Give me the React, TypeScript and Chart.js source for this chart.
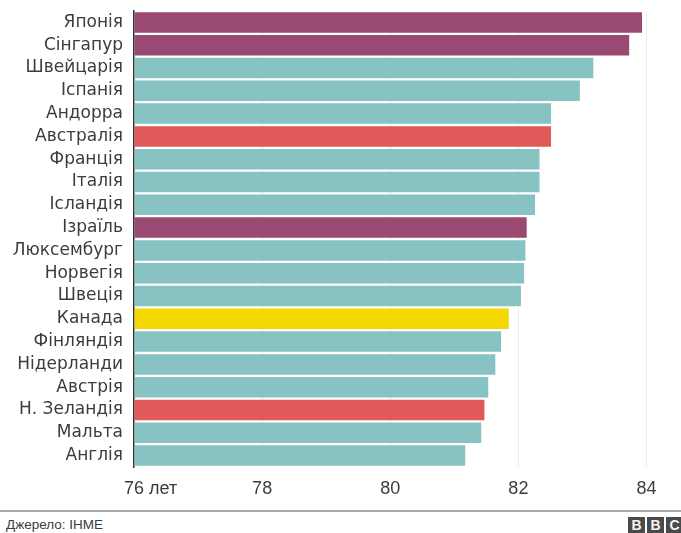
import React, { useEffect, useRef } from "react";
import { Chart, registerables } from "chart.js";

Chart.register(...registerables);

const countries: string[] = [
  "Японія", "Сінгапур", "Швейцарія", "Іспанія", "Андорра",
  "Австралія", "Франція", "Італія", "Ісландія", "Ізраїль",
  "Люксембург", "Норвегія", "Швеція", "Канада", "Фінляндія",
  "Нідерланди", "Австрія", "Н. Зеландія", "Мальта", "Англія",
];

const lifeExpectancy: number[] = [
  83.93, 83.73, 83.17, 82.96, 82.51,
  82.51, 82.33, 82.33, 82.26, 82.13,
  82.11, 82.09, 82.04, 81.85, 81.73,
  81.64, 81.53, 81.47, 81.42, 81.17,
];

// highlight group per country: 0 = other, 1 = Asia/Middle East, 2 = Oceania, 3 = Canada
const groups: number[] = [
  1, 1, 0, 0, 0,
  2, 0, 0, 0, 1,
  0, 0, 0, 3, 0,
  0, 0, 2, 0, 0,
];

const groupColors: string[] = ["#86c3c2", "#9a4a72", "#e05a5a", "#f5d800"];

const axisMin = 76;
const axisMax = 84;
const axisStep = 2;
const firstTickUnit = " лет";

const FONT = "'Liberation Sans', Arial, Helvetica, sans-serif";
const LABEL_FONT = "'DejaVu Sans', 'Liberation Sans', sans-serif";
const TEXT = "#3c3c3c";

// appends the unit after the first x tick label
const unitPlugin = {
  id: "firstTickUnit",
  afterDraw(chart: any) {
    const scale = chart.scales.x;
    if (!scale) return;
    const items = scale.getLabelItems(chart.chartArea);
    const first = items.find((it: any) => String(it.label) === String(axisMin));
    if (!first) return;
    const ctx = chart.ctx;
    ctx.save();
    ctx.font = first.font.string;
    ctx.fillStyle = TEXT;
    ctx.textAlign = "left";
    ctx.textBaseline = first.options.textBaseline;
    const w = ctx.measureText(String(first.label)).width;
    const [tx, ty] = first.options.translation;
    ctx.fillText(firstTickUnit, tx + w / 2, ty + first.textOffset);
    ctx.restore();
  },
};

function LifeChart() {
  const ref = useRef<HTMLCanvasElement | null>(null);

  useEffect(() => {
    if (!ref.current) return;
    const chart = new Chart(ref.current, {
      type: "bar",
      data: {
        labels: countries,
        datasets: [
          {
            data: lifeExpectancy,
            backgroundColor: groups.map((g) => groupColors[g]),
            borderWidth: 0,
            barPercentage: 0.9,
            categoryPercentage: 1,
            base: axisMin,
          },
        ],
      },
      options: {
        indexAxis: "y",
        animation: false,
        responsive: false,
        devicePixelRatio: 1,
        layout: { padding: { top: 11, right: 34.5, bottom: 0, left: 0 } },
        plugins: {
          legend: { display: false },
          tooltip: { enabled: false },
        },
        scales: {
          x: {
            min: axisMin,
            max: axisMax,
            afterFit(scale: any) {
              scale.height = 38;
              scale.paddingLeft = 0;
              scale.paddingRight = 0;
            },
            afterBuildTicks(scale: any) {
              const t = [];
              for (let v = axisMin; v <= axisMax; v += axisStep) t.push({ value: v });
              scale.ticks = t;
            },
            grid: { color: "#ececec", lineWidth: 1, drawTicks: false },
            border: { display: false },
            ticks: {
              padding: 11,
              color: TEXT,
              font: { family: FONT, size: 18 },
              maxRotation: 0,
              callback: (v: any) => String(v),
            },
          },
          y: {
            afterFit(scale: any) {
              scale.width = 134;
              scale.paddingTop = 0;
              scale.paddingBottom = 0;
            },
            grid: { display: false, drawTicks: false },
            border: { display: true, color: "#333333", width: 1.5 },
            ticks: {
              padding: 11,
              color: TEXT,
              font: { family: LABEL_FONT, size: 17 },
              autoSkip: false,
            },
          },
        },
      },
      plugins: [unitPlugin],
    });
    return () => chart.destroy();
  }, []);

  return <canvas ref={ref} width={681} height={505} style={{ position: "absolute", left: 0, top: 0 }} />;
}

function BbcBlocks() {
  const letters = ["B", "B", "C"];
  return (
    <div style={{ position: "absolute", left: 628, top: 517, display: "flex", gap: 2 }}>
      {letters.map((l, i) => (
        <div
          key={i}
          style={{
            width: 17,
            height: 17,
            background: "#4a4a4a",
            color: "#f4f4f4",
            fontFamily: FONT,
            fontWeight: 700,
            fontSize: 14,
            lineHeight: "17px",
            textAlign: "center",
          }}
        >
          {l}
        </div>
      ))}
    </div>
  );
}

export default function App() {
  return (
    <div
      style={{
        position: "fixed",
        left: 0,
        top: 0,
        width: 681,
        height: 533,
        background: "#ffffff",
        overflow: "hidden",
      }}
    >
      <LifeChart />
      <div style={{ position: "absolute", left: 0, top: 510, width: 681, height: 1.5, background: "#a8a8a8" }} />
      <div
        style={{
          position: "absolute",
          left: 6,
          top: 516,
          fontFamily: FONT,
          fontSize: 13.5,
          lineHeight: "17px",
          color: TEXT,
        }}
      >
        Джерело: IHME
      </div>
      <BbcBlocks />
    </div>
  );
}
